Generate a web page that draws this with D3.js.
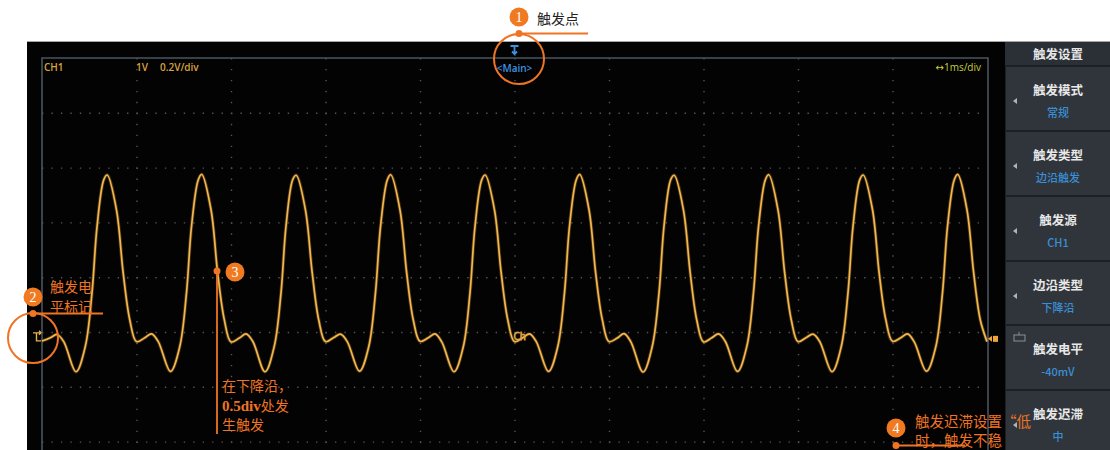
<!DOCTYPE html>
<html><head><meta charset="utf-8">
<script src="https://cdn.jsdelivr.net/npm/d3@7"></script>
<style>html,body{margin:0;padding:0;background:#fff;}svg{display:block}</style>
</head><body>
<svg id="c" width="1110" height="450"></svg>
<script>
// ---------- data ----------
const timeDomain = [-5, 5];            // ms, 1 ms/div, 10 divisions
const voltsPerDiv = 0.2;               // V/div
const voltTop = 0.985;                 // V at top graticule line
const voltDivs = 8;
const triggerLevel = -0.04;            // V (-40mV)
const headerLabels = ["CH1", "1V", "0.2V/div"];
const timebaseLabel = "\u21941ms/div";
const menuHeader = "触发设置";
const menuTitles = ["触发模式", "触发类型", "触发源", "边沿类型", "触发电平", "触发迟滞"];
const menuValues = ["常规", "边沿触发", "CH1", "下降沿", "-40mV", "中"];

// waveform samples (time in ms, value in V)
const traceTime = [
  -5.000, -4.912, -4.841, -4.770, -4.640, -4.542, -4.471, -4.418, -4.347,
  -4.310, -4.212, -4.141, -4.071, -4.000, -3.912, -3.841, -3.770, -3.640, -3.542, -3.471, -3.418, -3.347,
  -3.310, -3.212, -3.141, -3.071, -3.000, -2.912, -2.841, -2.770, -2.640, -2.542, -2.471, -2.418, -2.347,
  -2.310, -2.212, -2.141, -2.071, -2.000, -1.912, -1.841, -1.770, -1.640, -1.542, -1.471, -1.418, -1.347,
  -1.310, -1.212, -1.141, -1.071, -1.000, -0.912, -0.841, -0.770, -0.640, -0.542, -0.471, -0.418, -0.347,
  -0.310, -0.212, -0.141, -0.071, 0.000, 0.088, 0.159, 0.230, 0.360, 0.458, 0.529, 0.582, 0.653,
  0.690, 0.788, 0.859, 0.929, 1.000, 1.088, 1.159, 1.230, 1.360, 1.458, 1.529, 1.582, 1.653,
  1.690, 1.788, 1.859, 1.929, 2.000, 2.088, 2.159, 2.230, 2.360, 2.458, 2.529, 2.582, 2.653,
  2.690, 2.788, 2.859, 2.929, 3.000, 3.088, 3.159, 3.230, 3.360, 3.458, 3.529, 3.582, 3.653,
  3.690, 3.788, 3.859, 3.929, 4.000, 4.088, 4.159, 4.230, 4.360, 4.458, 4.529, 4.582, 4.653,
  4.690, 4.788, 4.859, 4.929, 5.000
];
const traceVolts = [
  -0.048, -0.036, -0.024, -0.050, -0.160, -0.068, 0.128, 0.368, 0.540,
  0.558, 0.431, 0.201, 0.029, -0.050, -0.036, -0.022, -0.050, -0.159, -0.068, 0.128, 0.370, 0.540,
  0.560, 0.432, 0.200, 0.030, -0.051, -0.037, -0.022, -0.049, -0.160, -0.067, 0.127, 0.371, 0.541,
  0.557, 0.430, 0.202, 0.028, -0.050, -0.035, -0.023, -0.050, -0.158, -0.068, 0.129, 0.369, 0.539,
  0.559, 0.431, 0.201, 0.029, -0.049, -0.036, -0.022, -0.051, -0.160, -0.069, 0.128, 0.370, 0.540,
  0.558, 0.431, 0.201, 0.029, -0.050, -0.036, -0.022, -0.050, -0.159, -0.068, 0.128, 0.370, 0.540,
  0.560, 0.432, 0.200, 0.030, -0.050, -0.037, -0.021, -0.050, -0.161, -0.067, 0.127, 0.371, 0.541,
  0.557, 0.430, 0.202, 0.028, -0.051, -0.036, -0.022, -0.049, -0.159, -0.068, 0.129, 0.369, 0.539,
  0.559, 0.431, 0.201, 0.029, -0.050, -0.035, -0.023, -0.050, -0.160, -0.068, 0.128, 0.370, 0.540,
  0.558, 0.432, 0.200, 0.030, -0.049, -0.036, -0.022, -0.051, -0.158, -0.069, 0.128, 0.370, 0.540,
  0.560, 0.431, 0.201, 0.029, -0.050
];

// ---------- layout ----------
const W = 1110, H = 450;
const gx0 = 42, gx1 = 987, gy0 = 58, divH = 54.8;
const panelX = 1005;
const rowTops = [66, 131, 196, 261, 325, 390, 455];
const orange = "#ef7424";

const svg = d3.select("#c");
const x = d3.scaleLinear().domain(timeDomain).range([gx0, gx1]);
const y = d3.scaleLinear().domain([voltTop - voltsPerDiv * voltDivs, voltTop]).range([gy0 + divH * voltDivs, gy0]);

svg.append("rect").attr("width", W).attr("height", H).attr("fill", "#fff");
// screen
svg.append("rect").attr("x", 27).attr("y", 41).attr("width", W - 27).attr("height", H - 41).attr("fill", "#030303");
svg.append("line").attr("x1", 27).attr("x2", W).attr("y1", 41.5).attr("y2", 41.5).attr("stroke", "#a4a4a4").attr("stroke-width", 1.2);

// grid (through axes)
const vTicks = d3.range(-4, 5, 1);
const gX = svg.append("g").attr("transform", `translate(0,${gy0})`)
  .call(d3.axisTop(x).tickValues(vTicks).tickSize(-(divH * voltDivs)).tickFormat(""));
gX.select(".domain").remove();
gX.selectAll("line").attr("stroke", "#555").attr("stroke-width", 1.4).attr("stroke-dasharray", "1.4,9.56");
const hTicks = d3.range(1, voltDivs).map(i => voltTop - i * voltsPerDiv);
const gY = svg.append("g").attr("transform", `translate(${gx0},0)`)
  .call(d3.axisLeft(y).tickValues(hTicks).tickSize(-(gx1 - gx0)).tickFormat(""));
gY.select(".domain").remove();
gY.selectAll("line").attr("stroke", "#555").attr("stroke-width", 1.4).attr("stroke-dasharray", "1.4,8.05");

// frame
svg.append("path").attr("d", `M${gx0},${H}V${gy0}H${gx1 + 1}V${H}`)
  .attr("fill", "none").attr("stroke", "#4a5460").attr("stroke-width", 1.6);

// header texts
const hdr = svg.append("g").attr("font-family", "'Open Sans', 'DejaVu Sans', sans-serif").attr("font-size", 10).attr("font-weight", 600);
hdr.append("text").attr("x", 44).attr("y", 71).attr("fill", "#d9a23e").text(headerLabels[0]);
hdr.append("text").attr("x", 136).attr("y", 71).attr("fill", "#d9a23e").text(headerLabels[1]);
hdr.append("text").attr("x", 160).attr("y", 71).attr("fill", "#d9a23e").text(headerLabels[2]);
hdr.append("text").attr("x", 981).attr("y", 71).attr("text-anchor", "end").attr("fill", "#c8cf3c").attr("font-weight", 500).text(timebaseLabel);

// trigger position marker (blue)
const tx = x(0);
svg.append("path").attr("d", `M${tx - 4},${46}H${tx + 4}M${tx},${46}V${54}l-2.5,-2.5M${tx},${54}l2.5,-2.5`)
  .attr("stroke", "#3f90e0").attr("stroke-width", 1.8).attr("fill", "none");
svg.append("text").attr("x", tx).attr("y", 72).attr("text-anchor", "middle").attr("fill", "#3f90e0")
  .attr("font-family", "'Open Sans', sans-serif").attr("font-size", 10).attr("font-weight", 600).text("<Main>");

// trace
const pts = traceTime.map((t, i) => [t, traceVolts[i]]);
const line = d3.line().x(d => x(d[0])).y(d => y(d[1])).curve(d3.curveCatmullRom.alpha(0.5));
svg.append("path").attr("d", line(pts)).attr("fill", "none").attr("stroke", "#e89c30").attr("stroke-opacity", 0.3).attr("stroke-width", 3.4);
svg.append("path").attr("d", line(pts)).attr("fill", "none").attr("stroke", "#f2b850").attr("stroke-width", 1.7);

// channel label on trace
svg.append("text").attr("x", x(0) - 1).attr("y", y(triggerLevel) + 1).attr("fill", "none").attr("stroke", "#e0a448")
  .attr("stroke-width", 0.8).attr("font-family", "'Open Sans', sans-serif").attr("font-size", 10).text("Ch");

// trigger level markers
const ty = y(triggerLevel);
svg.append("path").attr("d", `M${33},${ty - 6}H${40}M${36.5},${ty - 6}V${ty + 2}H${41}M${39},${ty - 8}l2,2 -2,2`)
  .attr("stroke", "#e9b04e").attr("stroke-width", 1.4).attr("fill", "none");
svg.append("path").attr("d", `M${988},${ty}l4,-3v6z`).attr("fill", "#f2a43a");
svg.append("rect").attr("x", 993).attr("y", ty - 3).attr("width", 5).attr("height", 6).attr("fill", "#f2a43a");

// right panel
svg.append("rect").attr("x", panelX).attr("y", 42).attr("width", W - panelX).attr("height", H - 42).attr("fill", "#1c1f23");
svg.append("rect").attr("x", panelX).attr("y", 42).attr("width", W - panelX).attr("height", 23).attr("fill", "#2b3036");
svg.append("text").attr("x", 1058).attr("y", 59).attr("text-anchor", "middle").attr("fill", "#e6e6e6")
  .attr("font-family", "'Noto Sans CJK SC', sans-serif").attr("font-size", 12.5).attr("font-weight", 700).text(menuHeader);
const rows = svg.append("g");
menuTitles.forEach((t, i) => {
  const top = rowTops[i], bot = rowTops[i + 1];
  rows.append("rect").attr("x", panelX + 1).attr("y", top + 1).attr("width", W - panelX - 1).attr("height", bot - top - 2).attr("fill", "#30353b");
  rows.append("text").attr("x", 1058).attr("y", top + 29).attr("text-anchor", "middle").attr("fill", "#e8e8e8")
    .attr("font-family", "'Noto Sans CJK SC', sans-serif").attr("font-size", 12.5).attr("font-weight", 700).text(t);
  rows.append("text").attr("x", 1058).attr("y", top + 51).attr("text-anchor", "middle").attr("fill", "#3a8fd6")
    .attr("font-family", "'Noto Sans CJK SC', 'Open Sans', sans-serif").attr("font-size", 11).attr("font-weight", 500).text(menuValues[i]);
  if (i === 4) {
    rows.append("rect").attr("x", 1014).attr("y", top + 10).attr("width", 11).attr("height", 6).attr("fill", "none").attr("stroke", "#8a9098").attr("stroke-width", 1);
    rows.append("line").attr("x1", 1019).attr("x2", 1019).attr("y1", top + 7).attr("y2", top + 10).attr("stroke", "#8a9098");
  } else {
    rows.append("path").attr("d", `M${1013},${top + 35}l4,-3v6z`).attr("fill", "#b0b4b8");
  }
});

// ---------- annotations ----------
const ann = svg.append("g");
function badge(cx, cy, n) {
  ann.append("circle").attr("cx", cx).attr("cy", cy).attr("r", 9.5).attr("fill", "#f07a22");
  ann.append("text").attr("x", cx).attr("y", cy + 5).attr("text-anchor", "middle").attr("fill", "#fff")
    .attr("font-family", "'Liberation Serif', serif").attr("font-size", 14).text(n);
}
function leader(x1, y1, x2, y2) {
  ann.append("line").attr("x1", x1).attr("y1", y1).attr("x2", x2).attr("y2", y2).attr("stroke", orange).attr("stroke-width", 1.8);
  ann.append("circle").attr("cx", x1).attr("cy", y1).attr("r", 3.5).attr("fill", orange);
}
function ring(cx, cy) {
  ann.append("circle").attr("cx", cx).attr("cy", cy).attr("r", 25).attr("fill", "none").attr("stroke", orange).attr("stroke-width", 2);
}
const cjk = "'Noto Sans CJK SC', sans-serif";
// 1
ring(519, 59);
leader(519, 33.5, 588, 33.5);
badge(519, 17, "1");
ann.append("text").attr("x", 537).attr("y", 24).attr("fill", "#222").attr("font-family", cjk).attr("font-size", 14).text("触发点");
// 2
ring(33, 338);
leader(33, 313.5, 103, 313.5);
badge(33, 297, "2");
ann.append("text").attr("x", 50).attr("y", 292).attr("fill", orange).attr("font-family", cjk).attr("font-size", 14).text("触发电");
ann.append("text").attr("x", 50).attr("y", 312).attr("fill", orange).attr("font-family", cjk).attr("font-size", 14).text("平标记");
// 3
leader(217, 271, 217, 434);
badge(235, 272, "3");
ann.append("text").attr("x", 222).attr("y", 391).attr("fill", orange).attr("font-family", cjk).attr("font-size", 14).text("在下降沿，");
const t3 = ann.append("text").attr("x", 222).attr("y", 411).attr("fill", orange).attr("font-family", cjk).attr("font-size", 14);
t3.append("tspan").attr("font-family", "'Liberation Serif', serif").attr("font-weight", 700).attr("font-size", 15).text("0.5div");
t3.append("tspan").text("处发");
ann.append("text").attr("x", 222).attr("y", 430).attr("fill", orange).attr("font-family", cjk).attr("font-size", 14).text("生触发");
// 4
ann.append("text").attr("x", 915).attr("y", 427).attr("fill", orange).attr("font-family", cjk).attr("font-size", 14.5).text("触发迟滞设置“低");
ann.append("text").attr("x", 915).attr("y", 446).attr("fill", orange).attr("font-family", cjk).attr("font-size", 14.5).text("时，触发不稳");
leader(896, 445.5, 965, 445.5);
badge(896, 428, "4");
</script>
</body></html>
